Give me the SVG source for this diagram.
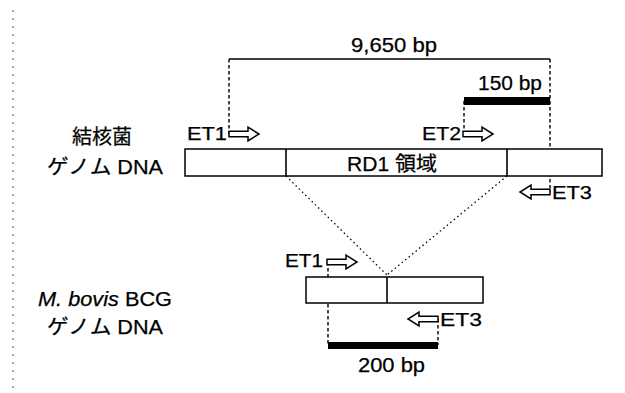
<svg xmlns="http://www.w3.org/2000/svg" xmlns:xlink="http://www.w3.org/1999/xlink" width="625" height="393" viewBox="0 0 625 393">
<style>
text{font-family:"Liberation Sans","Noto Sans CJK JP",sans-serif;font-size:18px;fill:#000;stroke:#000;stroke-width:0.25}
.jp{font-size:20px}
.big{font-size:20px}
.box{fill:#fff;stroke:#000;stroke-width:1.5}
.solid{stroke:#000;stroke-width:1.6;fill:none}
.dash{stroke:#000;stroke-width:1.4;stroke-dasharray:3.5 2.5;fill:none}
.dot{stroke:#000;stroke-width:1.3;stroke-dasharray:1.5 3;fill:none}
.bar{fill:#000}
.arr{fill:#fff;stroke:#000;stroke-width:1.5;stroke-linejoin:miter}
</style>
<defs>
<path id="ra" class="arr" d="M0,-2.8 H19 V-6.8 L30,0 L19,6.8 V2.8 H0 Z"/>
</defs>
<rect width="625" height="393" fill="#fff"/>
<line x1="13" y1="10" x2="13" y2="390" stroke="#555" stroke-width="1" stroke-dasharray="2 6"/>

<g id="connectors">
<line class="dot" x1="286" y1="176" x2="387" y2="275"/>
<line class="dot" x1="507" y1="176" x2="387" y2="275"/>
<line class="solid" x1="229" y1="59" x2="550" y2="59"/>
<line class="dash" x1="229" y1="59" x2="229" y2="134"/>
<line class="dash" x1="550" y1="59" x2="550" y2="192"/>
<line class="dash" x1="464" y1="101" x2="464" y2="134"/>
<line class="dash" x1="328" y1="262" x2="328" y2="345"/>
<line class="dash" x1="438" y1="319" x2="438" y2="345"/>
</g>

<g id="span-9650">
<text class="big" x="394" y="52" text-anchor="middle" textLength="86" lengthAdjust="spacingAndGlyphs">9,650 bp</text>
</g>
<g id="span-150">
<rect class="bar" x="464" y="97" width="86" height="8"/>
<text class="big" x="478" y="90" textLength="64" lengthAdjust="spacingAndGlyphs">150 bp</text>
</g>

<g id="tb-label">
<text class="jp" x="72" y="144" textLength="60" lengthAdjust="spacingAndGlyphs">結核菌</text>
<text class="jp" x="47" y="174" textLength="116" lengthAdjust="spacingAndGlyphs">ゲノム DNA</text>
</g>

<g id="tb-genome">
<rect class="box" x="185" y="149" width="417" height="27"/>
<line class="solid" x1="286" y1="149" x2="286" y2="176"/>
<line class="solid" x1="507" y1="149" x2="507" y2="176"/>
<text class="jp" x="347" y="171" textLength="90" lengthAdjust="spacingAndGlyphs">RD1 領域</text>
</g>

<g id="tb-et1">
<text x="187" y="140" textLength="40" lengthAdjust="spacingAndGlyphs">ET1</text>
<use xlink:href="#ra" x="229" y="134"/>
</g>
<g id="tb-et2">
<text x="422" y="140" textLength="39" lengthAdjust="spacingAndGlyphs">ET2</text>
<use xlink:href="#ra" x="463" y="134"/>
</g>
<g id="tb-et3">
<use xlink:href="#ra" transform="translate(550,192) scale(-1,1)"/>
<text x="552" y="199" textLength="40" lengthAdjust="spacingAndGlyphs">ET3</text>
</g>

<g id="bcg-label">
<text class="big" x="38" y="306" textLength="134" lengthAdjust="spacingAndGlyphs"><tspan font-style="italic">M. bovis</tspan> BCG</text>
<text class="jp" x="47" y="334" textLength="116" lengthAdjust="spacingAndGlyphs">ゲノム DNA</text>
</g>

<g id="bcg-genome">
<rect class="box" x="306" y="277" width="177" height="26"/>
<line class="solid" x1="387" y1="277" x2="387" y2="303"/>
</g>

<g id="bcg-et1">
<text x="285" y="267" textLength="38" lengthAdjust="spacingAndGlyphs">ET1</text>
<use xlink:href="#ra" x="327" y="262"/>
</g>
<g id="bcg-et3">
<use xlink:href="#ra" transform="translate(438,319) scale(-1,1)"/>
<text x="440" y="326" textLength="42" lengthAdjust="spacingAndGlyphs">ET3</text>
</g>

<g id="span-200">
<rect class="bar" x="328" y="342" width="110" height="7"/>
<text class="big" x="391.5" y="372" text-anchor="middle" textLength="67" lengthAdjust="spacingAndGlyphs">200 bp</text>
</g>
</svg>
